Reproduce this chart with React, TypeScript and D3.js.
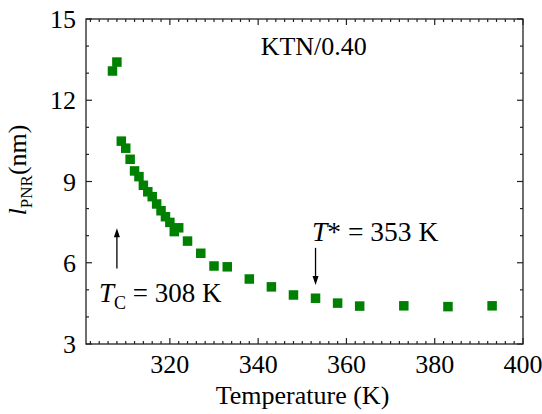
import React from 'react';
import * as d3 from 'd3';

// temperature (K) and PNR correlation length (nm)
const temps = [307, 308, 309, 310, 311, 312, 313, 314, 315, 316, 317, 318, 319, 320, 321, 322, 324, 327, 330, 333, 338, 343, 348, 353, 358, 363, 373, 383, 393];
const lengths = [13.08, 13.41, 10.49, 10.23, 9.82, 9.39, 9.18, 8.86, 8.62, 8.44, 8.17, 7.92, 7.70, 7.49, 7.15, 7.29, 6.80, 6.35, 5.88, 5.85, 5.40, 5.11, 4.81, 4.69, 4.51, 4.40, 4.41, 4.38, 4.41];

const xTicks = [320, 340, 360, 380, 400];
const yTicks = [3, 6, 9, 12, 15];

const W = 542, H = 414;
const margin = { top: 19, right: 19, bottom: 70, left: 86 };
const tf = { fontFamily: "'Liberation Serif'" };
const fs = 26;

export default function App() {
  let x = d3.scaleLinear().domain([301, 400]).range([margin.left, W - margin.right])
    , y = d3.scaleLinear().domain([3, 15]).range([H - margin.bottom, margin.top]);

  let x0 = margin.left, x1 = W - margin.right, y0 = H - margin.bottom, y1 = margin.top;

  let xMinor = d3.range(302, 400, 2).filter(v => !xTicks.includes(v));
  let yMinor = d3.range(4, 15, 1).filter(v => !yTicks.includes(v));

  let tickLines: React.ReactNode[] = [];
  xTicks.forEach(t => {
    tickLines.push(<line key={'xb' + t} x1={x(t)} x2={x(t)} y1={y0} y2={y0 - 6} />);
    tickLines.push(<line key={'xt' + t} x1={x(t)} x2={x(t)} y1={y1} y2={y1 + 6} />);
  });
  xMinor.forEach(t => {
    tickLines.push(<line key={'xmb' + t} x1={x(t)} x2={x(t)} y1={y0} y2={y0 - 3} />);
    tickLines.push(<line key={'xmt' + t} x1={x(t)} x2={x(t)} y1={y1} y2={y1 + 3} />);
  });
  yTicks.forEach(t => {
    tickLines.push(<line key={'yl' + t} x1={x0} x2={x0 + 6} y1={y(t)} y2={y(t)} />);
    tickLines.push(<line key={'yr' + t} x1={x1} x2={x1 - 6} y1={y(t)} y2={y(t)} />);
  });
  yMinor.forEach(t => {
    tickLines.push(<line key={'yml' + t} x1={x0} x2={x0 + 3} y1={y(t)} y2={y(t)} />);
    tickLines.push(<line key={'ymr' + t} x1={x1} x2={x1 - 3} y1={y(t)} y2={y(t)} />);
  });

  const sq = 9.5;
  let points = temps.map((t, i) => (
    <rect key={i} x={x(t) - sq / 2} y={y(lengths[i]) - sq / 2} width={sq} height={sq} fill="#008000" />
  ));

  // arrows: up at Tc, down at T*
  let upX = x(308), upTop = y(7.27), upBot = y(5.79);
  let dnX = x(353), dnTop = y(6.55), dnBot = y(5.18);

  return (
    <svg width={W} height={H} style={{ position: 'absolute', left: 0, top: 0 }}>
      <rect x={0} y={0} width={W} height={H} fill="#fff" />
      <g stroke="#222" strokeWidth={1.2}>
        {tickLines}
      </g>
      <rect x={x0} y={y1} width={x1 - x0} height={y0 - y1} fill="none" stroke="#222" strokeWidth={1.3} />

      {points}

      {yTicks.map(t => (
        <text key={t} x={x0 - 10} y={y(t) + 9} textAnchor="end" fontSize={fs} style={tf}>{t}</text>
      ))}
      {xTicks.map(t => (
        <text key={t} x={x(t)} y={y0 + 29} textAnchor="middle" fontSize={fs} style={tf}>{t}</text>
      ))}

      <text x={(x0 + x1) / 2 - 2} y={H - 10} textAnchor="middle" fontSize={fs} style={tf}>Temperature (K)</text>

      <text transform={`translate(26, 170) rotate(-90)`} textAnchor="middle" fontSize={fs} style={tf}>
        <tspan fontStyle="italic">l</tspan>
        <tspan fontSize={17} dy={6}>PNR</tspan>
        <tspan dy={-6}>(nm)</tspan>
      </text>

      <text x={x(352.6)} y={55} textAnchor="middle" fontSize={fs} style={tf}>KTN/0.40</text>

      <text x={99} y={302} fontSize={27} style={tf}>
        <tspan fontStyle="italic">T</tspan>
        <tspan fontSize={18} dy={7}>C</tspan>
        <tspan dy={-7}> = 308 K</tspan>
      </text>
      <text x={312} y={241} fontSize={27.5} style={tf}>
        <tspan fontStyle="italic">T</tspan>
        <tspan>* = 353 K</tspan>
      </text>

      <g stroke="#000" strokeWidth={1.3}>
        <line x1={upX} x2={upX} y1={upBot} y2={upTop + 6} />
        <line x1={dnX} x2={dnX} y1={dnTop} y2={dnBot - 6} />
      </g>
      <path d={`M${upX},${upTop} L${upX - 3},${upTop + 9} L${upX + 3},${upTop + 9} Z`} fill="#000" />
      <path d={`M${dnX},${dnBot} L${dnX - 3},${dnBot - 9} L${dnX + 3},${dnBot - 9} Z`} fill="#000" />
    </svg>
  );
}
